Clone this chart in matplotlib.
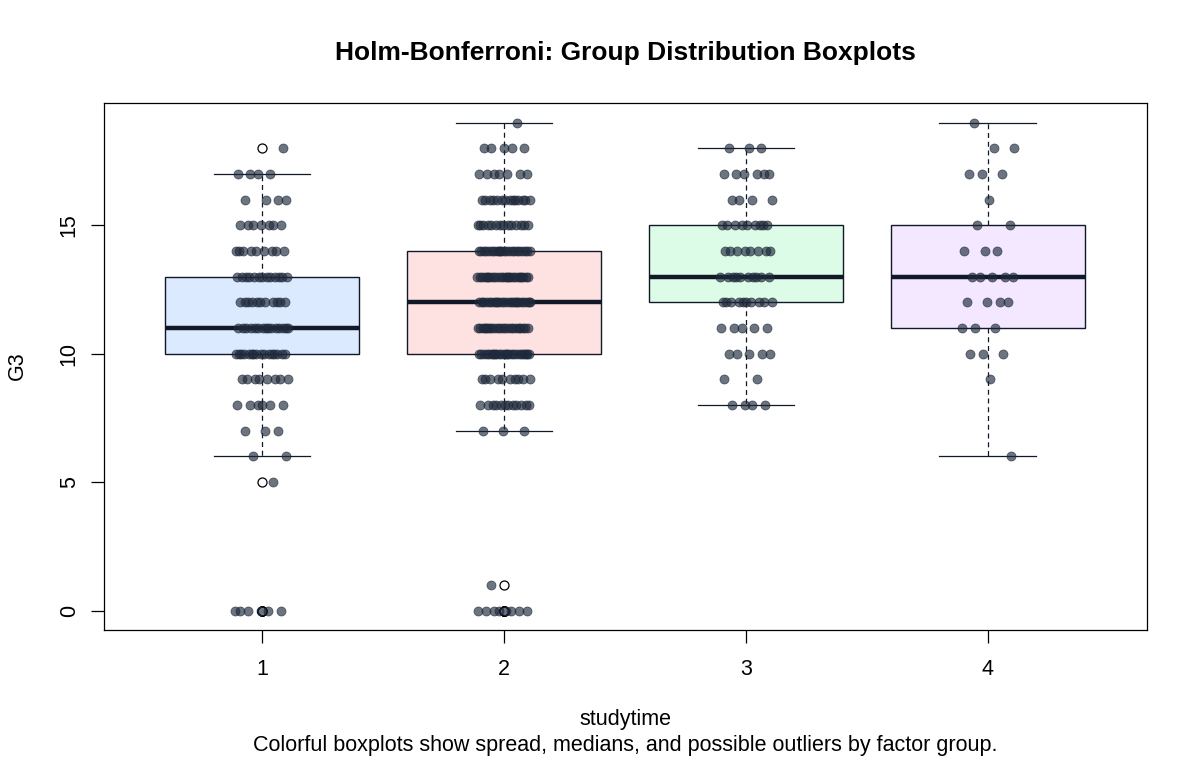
import numpy as np
import matplotlib.pyplot as plt

plt.rcParams['font.family'] = ['Liberation Sans', 'DejaVu Sans']

# groups on the x axis
groups = ['1', '2', '3', '4']

# G3 grades seen in each group, with how many students got each grade
g1_vals = [0, 5, 6, 7, 8, 9, 10, 11, 12, 13, 14, 15, 16, 17, 18]
g1_cnts = [6, 1, 2, 3, 6, 8, 16, 15, 11, 13, 9, 7, 4, 4, 1]

g2_vals = [0, 1, 7, 8, 9, 10, 11, 12, 13, 14, 15, 16, 17, 18, 19]
g2_cnts = [8, 1, 3, 12, 10, 24, 22, 24, 24, 22, 14, 14, 7, 5, 1]

g3_vals = [8, 9, 10, 11, 12, 13, 14, 15, 16, 17, 18]
g3_cnts = [4, 2, 5, 5, 10, 10, 8, 9, 4, 6, 3]

g4_vals = [6, 9, 10, 11, 12, 13, 14, 15, 16, 17, 18, 19]
g4_cnts = [1, 1, 3, 3, 4, 5, 3, 2, 1, 3, 2, 1]

fills = ['#DBEAFE', '#FEE2E2', '#DCFCE7', '#F3E8FF']
dark = '#111827'
pt_col = '#1E293B'

all_vals = [g1_vals, g2_vals, g3_vals, g4_vals]
all_cnts = [g1_cnts, g2_cnts, g3_cnts, g4_cnts]
data = [np.repeat(v, c) for v, c in zip(all_vals, all_cnts)]

fig = plt.figure(figsize=(12, 7.6), dpi=100)
ax = fig.add_axes([0.0867, 0.171, 0.869, 0.6935])

pos = np.arange(1, len(groups) + 1)
bp = ax.boxplot(data, positions=pos, widths=0.8, whis=1.5, patch_artist=True,
                manage_ticks=False,
                boxprops=dict(edgecolor=dark, linewidth=1.0),
                medianprops=dict(color=dark, linewidth=3.2, solid_capstyle='butt'),
                whiskerprops=dict(color=dark, linewidth=0.9, linestyle=(0, (4, 3))),
                capprops=dict(color=dark, linewidth=0.9),
                capwidths=0.4,
                flierprops=dict(marker='o', markerfacecolor='none',
                                markeredgecolor='black', markersize=6.5,
                                markeredgewidth=0.9))
for patch, c in zip(bp['boxes'], fills):
    patch.set_facecolor(c)

# deterministic horizontal spread of the points (stripchart style)
for i, d in enumerate(data):
    k = np.arange(len(d))
    off = ((k * 0.6180339887 + 0.31 * i) % 1.0 - 0.5) * 0.22
    ax.scatter(pos[i] + off, d, s=42, color=pt_col, alpha=0.65,
               edgecolors=pt_col, linewidths=0.6, zorder=3)

ax.set_xlim(0.347, 4.657)
ax.set_ylim(-0.76, 19.76)
ax.set_xticks(pos)
ax.set_xticklabels(groups)
ax.set_yticks([0, 5, 10, 15])
ax.tick_params(axis='x', length=9, width=0.9, pad=12, labelsize=15.5)
ax.tick_params(axis='y', length=9.5, width=0.9, pad=8, labelsize=15.5, labelrotation=90)
for lab in ax.get_yticklabels():
    lab.set_va('center')
for s in ax.spines.values():
    s.set_linewidth(0.9)

cx = 625.5 / 1200
fig.text(cx, 1 - 53 / 760, 'Holm-Bonferroni: Group Distribution Boxplots',
         ha='center', va='center', fontsize=19, fontweight='bold')
fig.text(cx, 1 - 719 / 760, 'studytime', ha='center', va='center', fontsize=15.5)
fig.text(cx, 1 - 745 / 760,
         'Colorful boxplots show spread, medians, and possible outliers by factor group.',
         ha='center', va='center', fontsize=15.5)
fig.text(17 / 1200, 1 - 366 / 760, 'G3', ha='center', va='center',
         rotation=90, fontsize=15.5)

fig.savefig('out.png', dpi=100)
